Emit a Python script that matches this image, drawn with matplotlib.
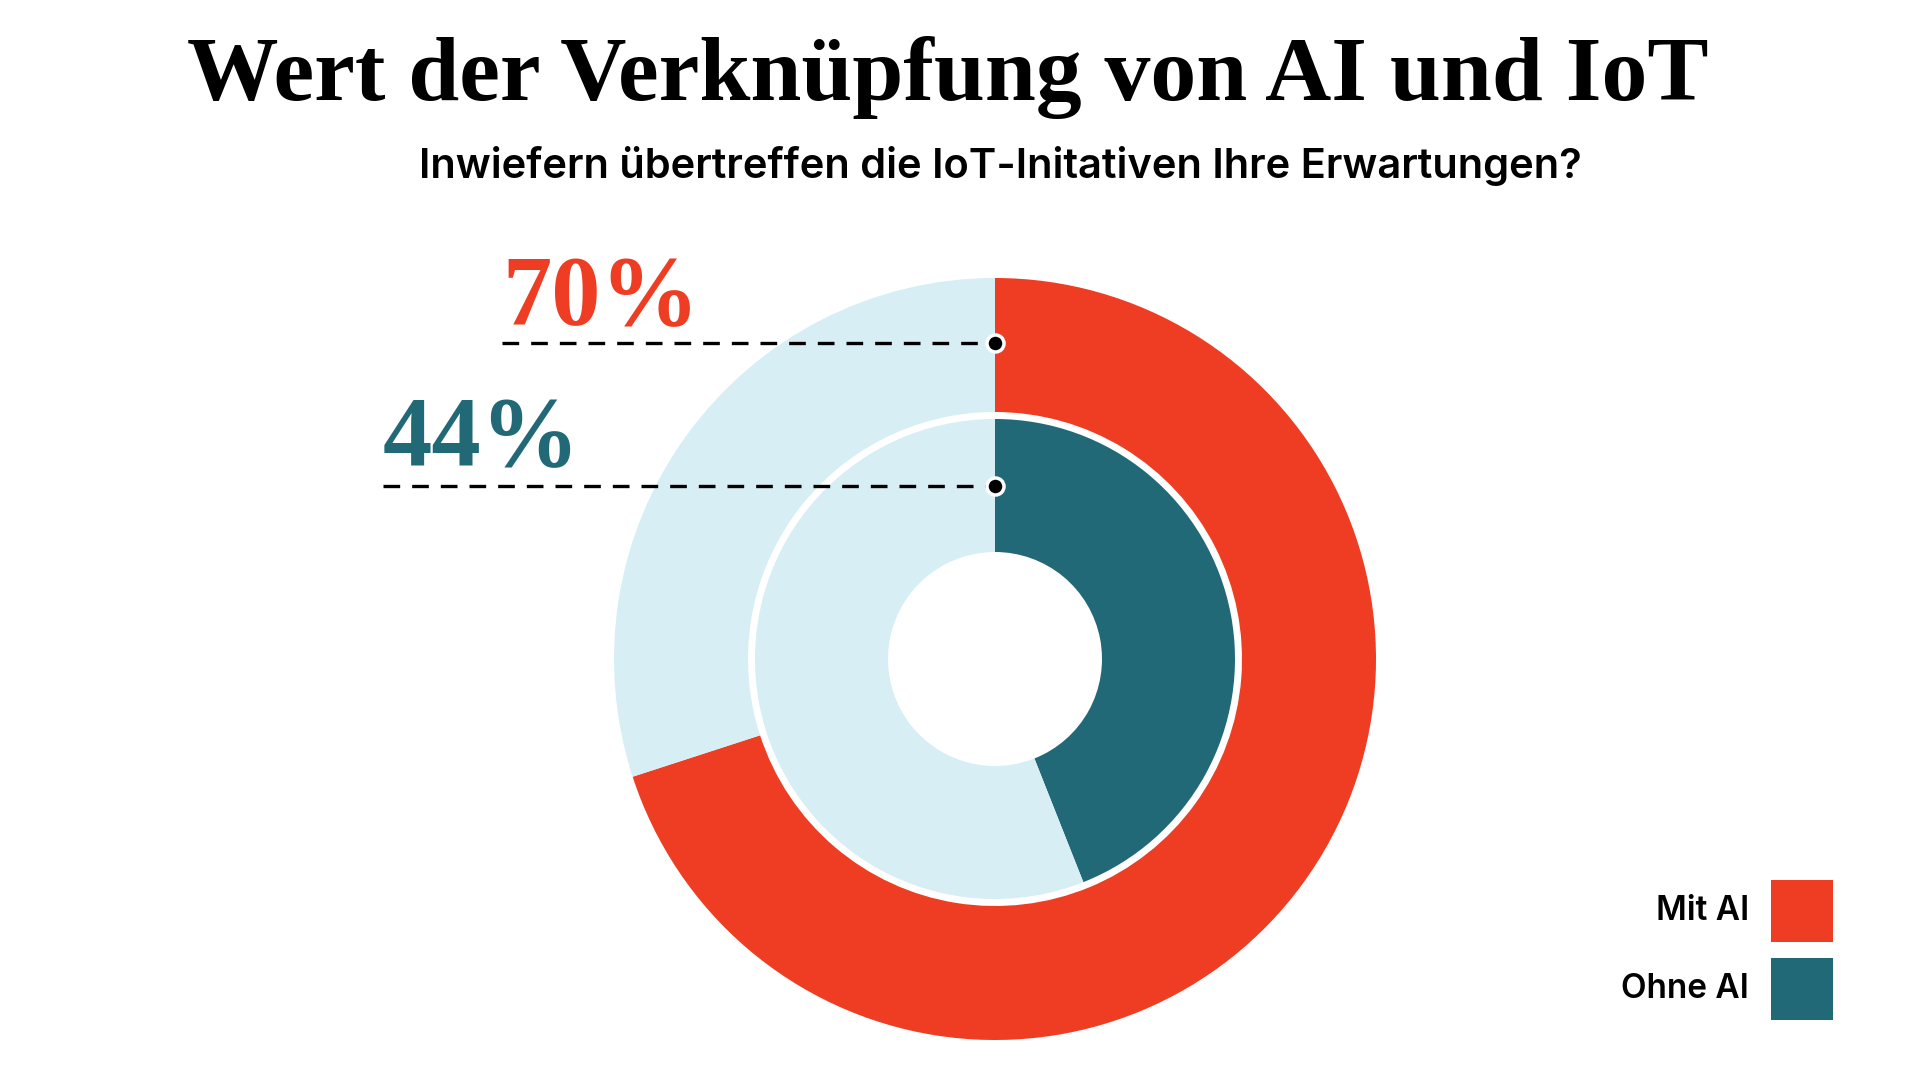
import matplotlib
matplotlib.use('Agg')
import matplotlib.pyplot as plt

# data
series = ['Mit AI', 'Ohne AI']
mit_ai = [70, 30]
ohne_ai = [44, 56]
labels = ['70%', '44%']

RED = '#EE3D23'
TEAL = '#216977'
LIGHT = '#D6EEF4'

W, H = 1920, 1080
cx, cy = 995, H - 659
r_out, r_out_in = 381, 247
r_in, r_in_in = 240, 107


def Y(y):
    return H - y


fig = plt.figure(figsize=(19.2, 10.8), dpi=100)
ax = fig.add_axes([0, 0, 1, 1])

ax.pie(mit_ai, colors=[RED, LIGHT], radius=r_out, center=(cx, cy),
       startangle=90, counterclock=False, frame=True,
       wedgeprops=dict(width=r_out - r_out_in, linewidth=0))
ax.pie(ohne_ai, colors=[TEAL, LIGHT], radius=r_in, center=(cx, cy),
       startangle=90, counterclock=False, frame=True,
       wedgeprops=dict(width=r_in - r_in_in, linewidth=0))

ax.set_xlim(0, W)
ax.set_ylim(0, H)
ax.set_aspect('equal')
ax.axis('off')

# callouts
dot_y = [cy + (r_out + r_out_in) / 2 + 2, cy + (r_in + r_in_in) / 2]
line_x0 = [502, 383]
lab_y = [Y(324), Y(465)]
for i in range(2):
    ax.plot([line_x0[i], cx], [dot_y[i], dot_y[i]], color='black', lw=2.4,
            dashes=(5, 3.6), solid_capstyle='butt', zorder=5)
    ax.scatter([cx], [dot_y[i]], s=150, color='black', edgecolor='white',
               linewidth=2.5, zorder=6)
    ax.text(line_x0[i], lab_y[i], labels[i], color=[RED, TEAL][i],
            fontsize=71, fontweight='bold', family='Liberation Serif',
            ha='left', va='baseline')

# titles
ax.text(948, Y(100), 'Wert der Verknüpfung von AI und IoT', fontsize=66,
        fontweight='bold', family='Liberation Serif', ha='center', va='baseline')
ax.text(1000, Y(178), 'Inwiefern übertreffen die IoT-Initativen Ihre Erwartungen?',
        fontsize=30, fontweight='semibold', family='Inter', ha='center', va='baseline')

# legend
leg_y = [911, 989]
for i in range(2):
    ax.add_patch(plt.Rectangle((1771, Y(leg_y[i]) - 31), 62, 62,
                               color=[RED, TEAL][i], lw=0))
    ax.text(1749, Y(leg_y[i]), series[i], fontsize=24, fontweight='semibold',
            family='Inter', ha='right', va='center')

fig.savefig('out.png', dpi=100, facecolor='white')
